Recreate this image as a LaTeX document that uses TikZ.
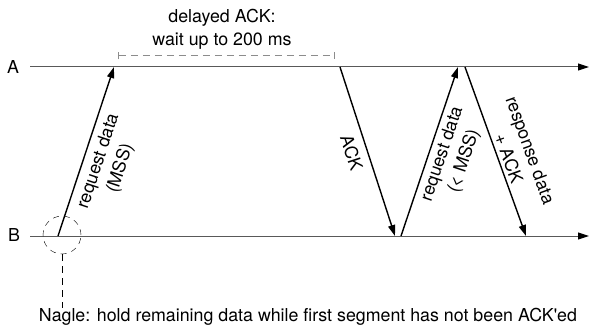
\documentclass[tikz,border=0pt]{standalone}
\usepackage{fontspec}
\setmainfont{TeX Gyre Heros}
\usetikzlibrary{arrows.meta}

\begin{document}
\begin{tikzpicture}[x=1pt, y=-1pt,
        font=\fontsize{17.8}{23}\selectfont,
        axis/.style={draw=black!65, line width=1pt, -{Triangle[length=11pt, width=7pt, black]}},
        msg/.style={draw, line width=1.4pt, -{Triangle[length=11pt, width=7pt]}},
        lbl/.style={inner sep=0pt, align=center, sloped}]
        \useasboundingbox (0, 0) rectangle (590, 329);
        \node at(13, 67) (la) {A};
        \node at(14, 235) (lb) {B};
        \coordinate (a0) at(30, 67);
        \coordinate (a9) at(589, 67);
        \coordinate (b0) at(30, 236);
        \coordinate (b9) at(589, 236);
        \coordinate (a1) at(114, 67);
        \coordinate (a2) at(340, 67);
        \coordinate (a3) at(458, 67);
        \coordinate (a4) at(465, 67);
        \coordinate (b1) at(58, 236);
        \coordinate (b2) at(395, 236);
        \coordinate (b3) at(401, 236);
        \coordinate (b4) at(526, 236);
        \coordinate (d0) at(118, 56);
        \coordinate (d1) at(335, 56);
        \draw[axis] (a0) -- (a9);
        \draw[axis] (b0) -- (b9);
        \draw[msg] (b1) -- (a1) node[lbl, pos=0.47, below=6pt] {request data\\(MSS)};
        \draw[msg] (a2) -- (b2) node[lbl, pos=0.48, below=8pt] {ACK};
        \draw[msg] (b3) -- (a3) node[lbl, pos=0.51, below=4pt] {request data\\(< MSS)};
        \draw[msg] (a4) -- (b4) node[lbl, pos=0.56, above=3pt] {response data\\+ ACK};
        \node[inner sep=0pt, align=center] at(222, 29) (dl) {delayed ACK:\\wait up to 200 ms};
        \draw[black!45, line width=1pt, dash pattern=on 7pt off 5pt, {Bar[width=7pt]}-{Bar[width=7pt]}] (d0) -- (d1);
        \node[draw, circle, dash pattern=on 6pt off 5pt, minimum size=38pt, inner sep=0pt] at(62, 235) (nc) {};
        \node[inner sep=0pt, anchor=base] at(308, 321) (nagle) {Nagle: hold remaining data while first segment has not been ACK\textquotesingle ed};
        \draw[dash pattern=on 7pt off 5pt] (nc.south) -- (nc.south |- nagle.north);
    \end{tikzpicture}
\end{document}
